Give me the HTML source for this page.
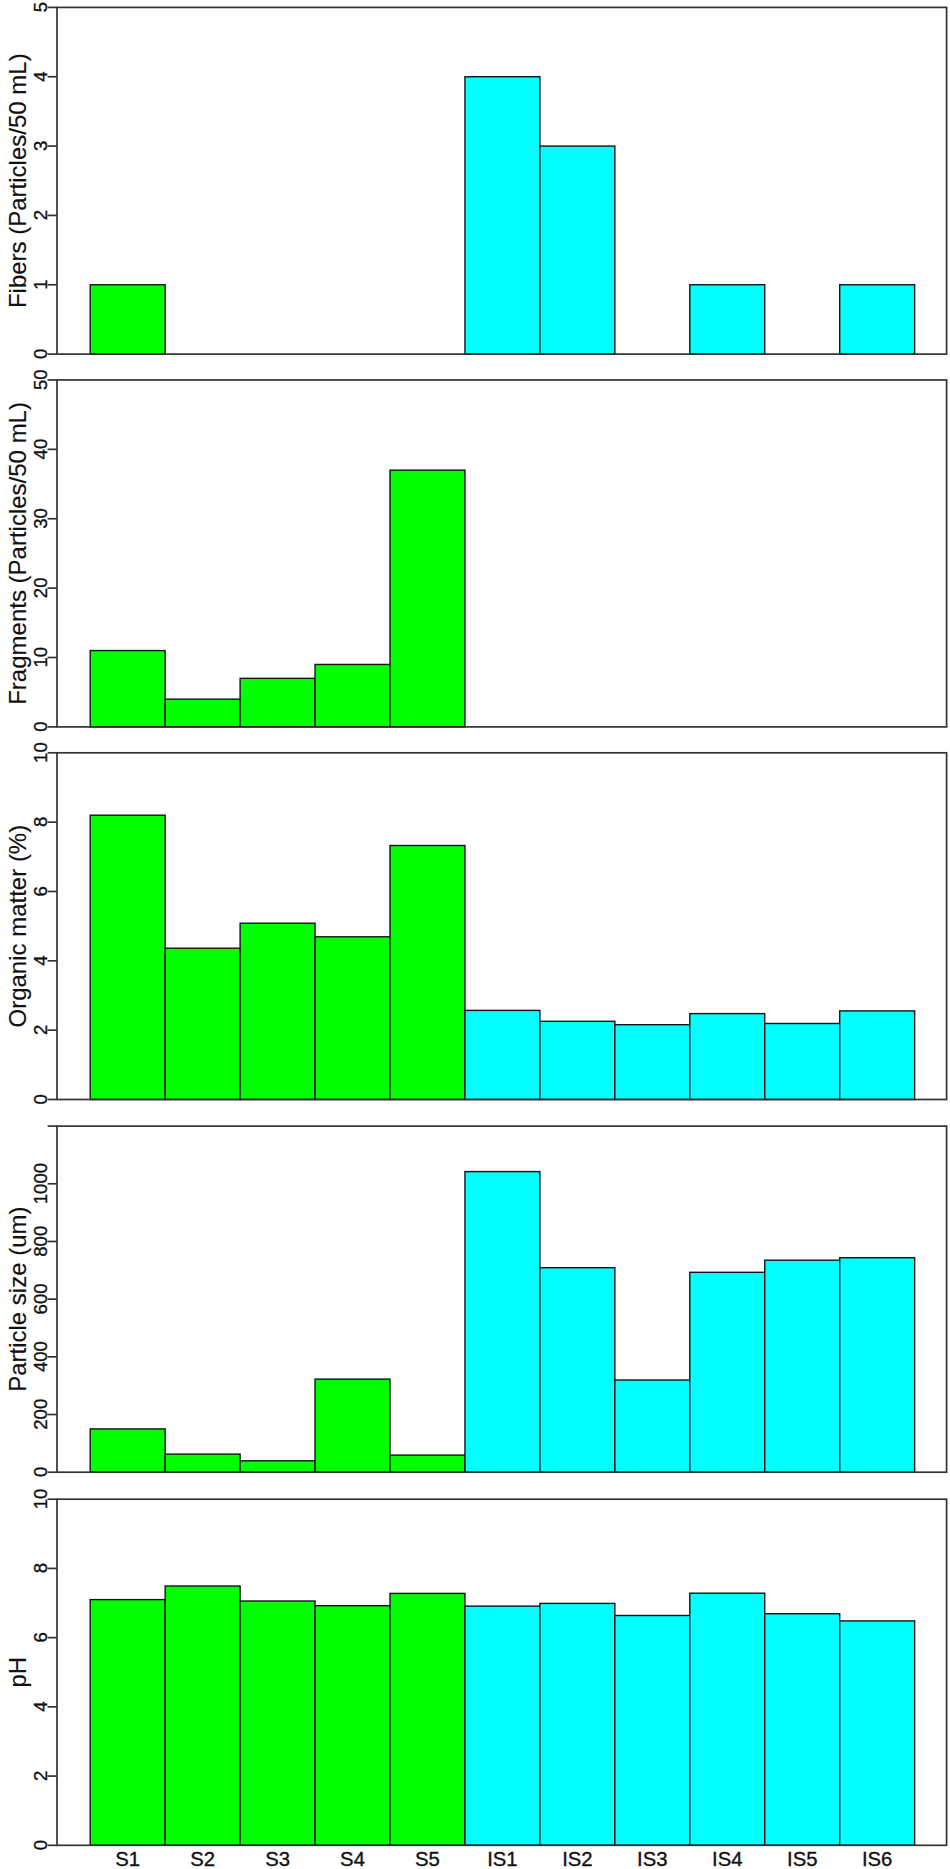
<!DOCTYPE html>
<html><head><meta charset="utf-8"><title>Figure</title>
<style>html,body{margin:0;padding:0;background:#fff;}svg{display:block;}text{font-family:"Liberation Sans",Arial,sans-serif;fill:#111;stroke:#111;stroke-width:0.35px;}text.t{stroke-width:0.15px;}</style>
</head><body>
<svg width="950" height="1869" viewBox="0 0 950 1869">
<rect x="0" y="0" width="950" height="1869" fill="#fff"/>
<g>
<rect x="90.2" y="284.76" width="74.95" height="69.34" fill="#00ff00" stroke="#141414" stroke-width="1.4"/>
<rect x="464.95" y="76.74" width="74.95" height="277.36" fill="#00ffff" stroke="#141414" stroke-width="1.4"/>
<rect x="539.9" y="146.08" width="74.95" height="208.02" fill="#00ffff" stroke="#141414" stroke-width="1.4"/>
<rect x="689.8" y="284.76" width="74.95" height="69.34" fill="#00ffff" stroke="#141414" stroke-width="1.4"/>
<rect x="839.7" y="284.76" width="74.95" height="69.34" fill="#00ffff" stroke="#141414" stroke-width="1.4"/>
<rect x="57" y="7.4" width="889.6" height="346.7" fill="none" stroke="#333333" stroke-width="1.7"/>
<line x1="47.6" y1="354.1" x2="57" y2="354.1" stroke="#333333" stroke-width="1.7"/>
<text transform="translate(47.1 353.85) rotate(-90)" text-anchor="middle" font-size="18.6">0</text>
<line x1="47.6" y1="284.76" x2="57" y2="284.76" stroke="#333333" stroke-width="1.7"/>
<text transform="translate(47.1 284.51) rotate(-90)" text-anchor="middle" font-size="18.6">1</text>
<line x1="47.6" y1="215.42" x2="57" y2="215.42" stroke="#333333" stroke-width="1.7"/>
<text transform="translate(47.1 215.17) rotate(-90)" text-anchor="middle" font-size="18.6">2</text>
<line x1="47.6" y1="146.08" x2="57" y2="146.08" stroke="#333333" stroke-width="1.7"/>
<text transform="translate(47.1 145.83) rotate(-90)" text-anchor="middle" font-size="18.6">3</text>
<line x1="47.6" y1="76.74" x2="57" y2="76.74" stroke="#333333" stroke-width="1.7"/>
<text transform="translate(47.1 76.49) rotate(-90)" text-anchor="middle" font-size="18.6">4</text>
<line x1="47.6" y1="7.4" x2="57" y2="7.4" stroke="#333333" stroke-width="1.7"/>
<text transform="translate(47.1 7.15) rotate(-90)" text-anchor="middle" font-size="18.6">5</text>
<text class="t" transform="translate(25.8 180.75) rotate(-90)" text-anchor="middle" font-size="24.0">Fibers (Particles/50 mL)</text>
</g>
<g>
<rect x="90.2" y="650.57" width="74.95" height="76.33" fill="#00ff00" stroke="#141414" stroke-width="1.4"/>
<rect x="165.15" y="699.14" width="74.95" height="27.76" fill="#00ff00" stroke="#141414" stroke-width="1.4"/>
<rect x="240.1" y="678.33" width="74.95" height="48.57" fill="#00ff00" stroke="#141414" stroke-width="1.4"/>
<rect x="315.05" y="664.45" width="74.95" height="62.45" fill="#00ff00" stroke="#141414" stroke-width="1.4"/>
<rect x="390" y="470.16" width="74.95" height="256.74" fill="#00ff00" stroke="#141414" stroke-width="1.4"/>
<rect x="57" y="379.95" width="889.6" height="346.95" fill="none" stroke="#333333" stroke-width="1.7"/>
<line x1="47.6" y1="726.9" x2="57" y2="726.9" stroke="#333333" stroke-width="1.7"/>
<text transform="translate(47.1 726.65) rotate(-90)" text-anchor="middle" font-size="18.6">0</text>
<line x1="47.6" y1="657.51" x2="57" y2="657.51" stroke="#333333" stroke-width="1.7"/>
<text transform="translate(47.1 657.26) rotate(-90)" text-anchor="middle" font-size="18.6">10</text>
<line x1="47.6" y1="588.12" x2="57" y2="588.12" stroke="#333333" stroke-width="1.7"/>
<text transform="translate(47.1 587.87) rotate(-90)" text-anchor="middle" font-size="18.6">20</text>
<line x1="47.6" y1="518.73" x2="57" y2="518.73" stroke="#333333" stroke-width="1.7"/>
<text transform="translate(47.1 518.48) rotate(-90)" text-anchor="middle" font-size="18.6">30</text>
<line x1="47.6" y1="449.34" x2="57" y2="449.34" stroke="#333333" stroke-width="1.7"/>
<text transform="translate(47.1 449.09) rotate(-90)" text-anchor="middle" font-size="18.6">40</text>
<line x1="47.6" y1="379.95" x2="57" y2="379.95" stroke="#333333" stroke-width="1.7"/>
<text transform="translate(47.1 379.7) rotate(-90)" text-anchor="middle" font-size="18.6">50</text>
<text class="t" transform="translate(25.8 553.42) rotate(-90)" text-anchor="middle" font-size="24.0">Fragments (Particles/50 mL)</text>
</g>
<g>
<rect x="90.2" y="815.2" width="74.95" height="284.3" fill="#00ff00" stroke="#141414" stroke-width="1.4"/>
<rect x="165.15" y="948.2" width="74.95" height="151.3" fill="#00ff00" stroke="#141414" stroke-width="1.4"/>
<rect x="240.1" y="923.2" width="74.95" height="176.3" fill="#00ff00" stroke="#141414" stroke-width="1.4"/>
<rect x="315.05" y="936.8" width="74.95" height="162.7" fill="#00ff00" stroke="#141414" stroke-width="1.4"/>
<rect x="390" y="845.5" width="74.95" height="254" fill="#00ff00" stroke="#141414" stroke-width="1.4"/>
<rect x="464.95" y="1010.4" width="74.95" height="89.1" fill="#00ffff" stroke="#141414" stroke-width="1.4"/>
<rect x="539.9" y="1021.3" width="74.95" height="78.2" fill="#00ffff" stroke="#141414" stroke-width="1.4"/>
<rect x="614.85" y="1024.7" width="74.95" height="74.8" fill="#00ffff" stroke="#141414" stroke-width="1.4"/>
<rect x="689.8" y="1013.6" width="74.95" height="85.9" fill="#00ffff" stroke="#141414" stroke-width="1.4"/>
<rect x="764.75" y="1023.5" width="74.95" height="76" fill="#00ffff" stroke="#141414" stroke-width="1.4"/>
<rect x="839.7" y="1010.9" width="74.95" height="88.6" fill="#00ffff" stroke="#141414" stroke-width="1.4"/>
<rect x="57" y="752.8" width="889.6" height="346.7" fill="none" stroke="#333333" stroke-width="1.7"/>
<line x1="47.6" y1="1099.5" x2="57" y2="1099.5" stroke="#333333" stroke-width="1.7"/>
<text transform="translate(47.1 1099.25) rotate(-90)" text-anchor="middle" font-size="18.6">0</text>
<line x1="47.6" y1="1030.16" x2="57" y2="1030.16" stroke="#333333" stroke-width="1.7"/>
<text transform="translate(47.1 1029.91) rotate(-90)" text-anchor="middle" font-size="18.6">2</text>
<line x1="47.6" y1="960.82" x2="57" y2="960.82" stroke="#333333" stroke-width="1.7"/>
<text transform="translate(47.1 960.57) rotate(-90)" text-anchor="middle" font-size="18.6">4</text>
<line x1="47.6" y1="891.48" x2="57" y2="891.48" stroke="#333333" stroke-width="1.7"/>
<text transform="translate(47.1 891.23) rotate(-90)" text-anchor="middle" font-size="18.6">6</text>
<line x1="47.6" y1="822.14" x2="57" y2="822.14" stroke="#333333" stroke-width="1.7"/>
<text transform="translate(47.1 821.89) rotate(-90)" text-anchor="middle" font-size="18.6">8</text>
<line x1="47.6" y1="752.8" x2="57" y2="752.8" stroke="#333333" stroke-width="1.7"/>
<text transform="translate(47.1 752.55) rotate(-90)" text-anchor="middle" font-size="18.6">10</text>
<text class="t" transform="translate(25.8 926.15) rotate(-90)" text-anchor="middle" font-size="24.0">Organic matter (%)</text>
</g>
<g>
<rect x="90.2" y="1428.9" width="74.95" height="43.3" fill="#00ff00" stroke="#141414" stroke-width="1.4"/>
<rect x="165.15" y="1454.1" width="74.95" height="18.1" fill="#00ff00" stroke="#141414" stroke-width="1.4"/>
<rect x="240.1" y="1460.8" width="74.95" height="11.4" fill="#00ff00" stroke="#141414" stroke-width="1.4"/>
<rect x="315.05" y="1379.1" width="74.95" height="93.1" fill="#00ff00" stroke="#141414" stroke-width="1.4"/>
<rect x="390" y="1455.1" width="74.95" height="17.1" fill="#00ff00" stroke="#141414" stroke-width="1.4"/>
<rect x="464.95" y="1171.6" width="74.95" height="300.6" fill="#00ffff" stroke="#141414" stroke-width="1.4"/>
<rect x="539.9" y="1267.7" width="74.95" height="204.5" fill="#00ffff" stroke="#141414" stroke-width="1.4"/>
<rect x="614.85" y="1380" width="74.95" height="92.2" fill="#00ffff" stroke="#141414" stroke-width="1.4"/>
<rect x="689.8" y="1272.3" width="74.95" height="199.9" fill="#00ffff" stroke="#141414" stroke-width="1.4"/>
<rect x="764.75" y="1260.2" width="74.95" height="212" fill="#00ffff" stroke="#141414" stroke-width="1.4"/>
<rect x="839.7" y="1257.7" width="74.95" height="214.5" fill="#00ffff" stroke="#141414" stroke-width="1.4"/>
<rect x="57" y="1126.1" width="889.6" height="346.1" fill="none" stroke="#333333" stroke-width="1.7"/>
<line x1="47.6" y1="1472.2" x2="57" y2="1472.2" stroke="#333333" stroke-width="1.7"/>
<text transform="translate(47.1 1471.95) rotate(-90)" text-anchor="middle" font-size="18.6">0</text>
<line x1="47.6" y1="1414.52" x2="57" y2="1414.52" stroke="#333333" stroke-width="1.7"/>
<text transform="translate(47.1 1414.27) rotate(-90)" text-anchor="middle" font-size="18.6">200</text>
<line x1="47.6" y1="1356.83" x2="57" y2="1356.83" stroke="#333333" stroke-width="1.7"/>
<text transform="translate(47.1 1356.58) rotate(-90)" text-anchor="middle" font-size="18.6">400</text>
<line x1="47.6" y1="1299.15" x2="57" y2="1299.15" stroke="#333333" stroke-width="1.7"/>
<text transform="translate(47.1 1298.9) rotate(-90)" text-anchor="middle" font-size="18.6">600</text>
<line x1="47.6" y1="1241.47" x2="57" y2="1241.47" stroke="#333333" stroke-width="1.7"/>
<text transform="translate(47.1 1241.22) rotate(-90)" text-anchor="middle" font-size="18.6">800</text>
<line x1="47.6" y1="1183.78" x2="57" y2="1183.78" stroke="#333333" stroke-width="1.7"/>
<text transform="translate(47.1 1183.53) rotate(-90)" text-anchor="middle" font-size="18.6">1000</text>
<line x1="47.6" y1="1126.1" x2="57" y2="1126.1" stroke="#333333" stroke-width="1.7"/>
<text class="t" transform="translate(25.8 1299.15) rotate(-90)" text-anchor="middle" font-size="24.0">Particle size (um)</text>
</g>
<g>
<rect x="90.2" y="1599.6" width="74.95" height="245.7" fill="#00ff00" stroke="#141414" stroke-width="1.4"/>
<rect x="165.15" y="1586" width="74.95" height="259.3" fill="#00ff00" stroke="#141414" stroke-width="1.4"/>
<rect x="240.1" y="1601" width="74.95" height="244.3" fill="#00ff00" stroke="#141414" stroke-width="1.4"/>
<rect x="315.05" y="1605.7" width="74.95" height="239.6" fill="#00ff00" stroke="#141414" stroke-width="1.4"/>
<rect x="390" y="1593.4" width="74.95" height="251.9" fill="#00ff00" stroke="#141414" stroke-width="1.4"/>
<rect x="464.95" y="1606.1" width="74.95" height="239.2" fill="#00ffff" stroke="#141414" stroke-width="1.4"/>
<rect x="539.9" y="1603.4" width="74.95" height="241.9" fill="#00ffff" stroke="#141414" stroke-width="1.4"/>
<rect x="614.85" y="1615.5" width="74.95" height="229.8" fill="#00ffff" stroke="#141414" stroke-width="1.4"/>
<rect x="689.8" y="1593.2" width="74.95" height="252.1" fill="#00ffff" stroke="#141414" stroke-width="1.4"/>
<rect x="764.75" y="1613.7" width="74.95" height="231.6" fill="#00ffff" stroke="#141414" stroke-width="1.4"/>
<rect x="839.7" y="1620.9" width="74.95" height="224.4" fill="#00ffff" stroke="#141414" stroke-width="1.4"/>
<rect x="57" y="1499.2" width="889.6" height="346.1" fill="none" stroke="#333333" stroke-width="1.7"/>
<line x1="47.6" y1="1845.3" x2="57" y2="1845.3" stroke="#333333" stroke-width="1.7"/>
<text transform="translate(47.1 1845.05) rotate(-90)" text-anchor="middle" font-size="18.6">0</text>
<line x1="47.6" y1="1776.08" x2="57" y2="1776.08" stroke="#333333" stroke-width="1.7"/>
<text transform="translate(47.1 1775.83) rotate(-90)" text-anchor="middle" font-size="18.6">2</text>
<line x1="47.6" y1="1706.86" x2="57" y2="1706.86" stroke="#333333" stroke-width="1.7"/>
<text transform="translate(47.1 1706.61) rotate(-90)" text-anchor="middle" font-size="18.6">4</text>
<line x1="47.6" y1="1637.64" x2="57" y2="1637.64" stroke="#333333" stroke-width="1.7"/>
<text transform="translate(47.1 1637.39) rotate(-90)" text-anchor="middle" font-size="18.6">6</text>
<line x1="47.6" y1="1568.42" x2="57" y2="1568.42" stroke="#333333" stroke-width="1.7"/>
<text transform="translate(47.1 1568.17) rotate(-90)" text-anchor="middle" font-size="18.6">8</text>
<line x1="47.6" y1="1499.2" x2="57" y2="1499.2" stroke="#333333" stroke-width="1.7"/>
<text transform="translate(47.1 1498.95) rotate(-90)" text-anchor="middle" font-size="18.6">10</text>
<text class="t" transform="translate(25.8 1672.25) rotate(-90)" text-anchor="middle" font-size="24.0">pH</text>
</g>
<text x="127.68" y="1865.6" text-anchor="middle" font-size="20.3">S1</text>
<text x="202.62" y="1865.6" text-anchor="middle" font-size="20.3">S2</text>
<text x="277.57" y="1865.6" text-anchor="middle" font-size="20.3">S3</text>
<text x="352.52" y="1865.6" text-anchor="middle" font-size="20.3">S4</text>
<text x="427.48" y="1865.6" text-anchor="middle" font-size="20.3">S5</text>
<text x="502.43" y="1865.6" text-anchor="middle" font-size="20.3">IS1</text>
<text x="577.38" y="1865.6" text-anchor="middle" font-size="20.3">IS2</text>
<text x="652.33" y="1865.6" text-anchor="middle" font-size="20.3">IS3</text>
<text x="727.28" y="1865.6" text-anchor="middle" font-size="20.3">IS4</text>
<text x="802.23" y="1865.6" text-anchor="middle" font-size="20.3">IS5</text>
<text x="877.18" y="1865.6" text-anchor="middle" font-size="20.3">IS6</text>
</svg>
</body></html>
